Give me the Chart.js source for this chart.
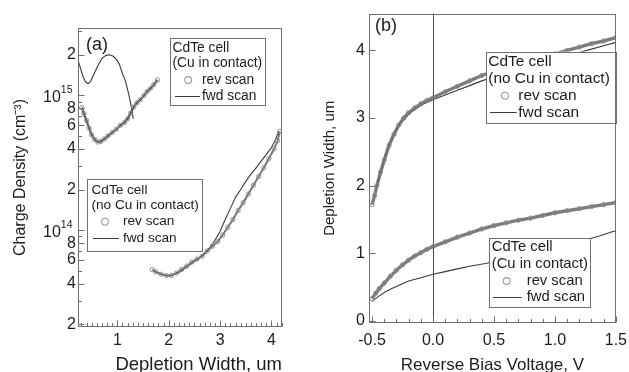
<!DOCTYPE html>
<html>
<head>
<meta charset="utf-8">
<script src="https://cdn.jsdelivr.net/npm/chart.js@4.4.0/dist/chart.umd.min.js"></script>
<style>
  html, body { margin: 0; padding: 0; background: #fff; }
  #wrap { position: relative; width: 629px; height: 372px; overflow: hidden; }
  canvas { position: absolute; top: 0; }
</style>
</head>
<body>
<div id="wrap">
  <canvas id="chartA" width="305" height="372" style="left:0px"></canvas>
  <canvas id="chartB" width="330" height="372" style="left:305px"></canvas>
</div>
<script>
// ---- panel (a): charge density vs depletion width ----
const cuRevWidth = [0.31, 0.35, 0.40, 0.45, 0.50, 0.56, 0.62, 0.68, 0.75, 0.82, 0.90, 0.98, 1.06, 1.14, 1.20, 1.26, 1.32, 1.38, 1.45, 1.52, 1.58, 1.65, 1.71, 1.78];
const cuRevDensity = [8.1e14, 7.3e14, 6.5e14, 5.7e14, 5.1e14, 4.7e14, 4.5e14, 4.55e14, 4.75e14, 5.0e14, 5.3e14, 5.6e14, 6.0e14, 6.3e14, 6.7e14, 7.4e14, 8.2e14, 8.8e14, 9.3e14, 1.0e15, 1.07e15, 1.13e15, 1.2e15, 1.3e15];

const cuFwdWidth = [0.245, 0.28, 0.33, 0.38, 0.43, 0.48, 0.55, 0.62, 0.70, 0.78, 0.85, 0.92, 0.98, 1.04, 1.10, 1.16, 1.21, 1.25, 1.28, 1.31];
const cuFwdDensity = [1.76e15, 1.6e15, 1.38e15, 1.26e15, 1.22e15, 1.27e15, 1.45e15, 1.66e15, 1.88e15, 1.98e15, 2.0e15, 1.95e15, 1.85e15, 1.7e15, 1.45e15, 1.27e15, 1.06e15, 9.1e14, 7.9e14, 6.7e14];

const noCuRevWidth = [1.68, 1.75, 1.85, 1.95, 2.05, 2.15, 2.25, 2.35, 2.45, 2.55, 2.65, 2.75, 2.85, 2.95, 3.05, 3.15, 3.25, 3.35, 3.45, 3.55, 3.65, 3.75, 3.85, 3.95, 4.05, 4.12, 4.16];
const noCuRevDensity = [5.1e13, 4.9e13, 4.7e13, 4.6e13, 4.6e13, 4.8e13, 5.1e13, 5.4e13, 5.8e13, 6.1e13, 6.4e13, 7.0e13, 7.6e13, 8.2e13, 9.2e13, 1.05e14, 1.2e14, 1.4e14, 1.6e14, 1.85e14, 2.15e14, 2.5e14, 2.9e14, 3.4e14, 4.0e14, 4.6e14, 5.4e14];

const noCuFwdWidth = [1.70, 1.85, 2.0, 2.2, 2.4, 2.6, 2.8, 2.9, 3.0, 3.1, 3.2, 3.3, 3.4, 3.5, 3.6, 3.7, 3.8, 3.9, 4.0, 4.08, 4.14];
const noCuFwdDensity = [5.0e13, 4.7e13, 4.55e13, 4.85e13, 5.5e13, 6.2e13, 7.4e13, 8.4e13, 9.8e13, 1.2e14, 1.45e14, 1.75e14, 2.0e14, 2.3e14, 2.6e14, 2.9e14, 3.25e14, 3.65e14, 4.1e14, 4.7e14, 5.4e14];

const widthTicksA = [1, 2, 3, 4];
const densityTicks = [2e13, 4e13, 6e13, 8e13, 1e14, 2e14, 4e14, 6e14, 8e14, 1e15, 2e15];

// ---- panel (b): depletion width vs reverse bias ----
const biasNoCuRev = [-0.50, -0.48, -0.46, -0.43, -0.40, -0.36, -0.32, -0.28, -0.24, -0.20, -0.15, -0.10, -0.05, 0.0, 0.1, 0.2, 0.3, 0.4, 0.5, 0.6, 0.7, 0.8, 0.9, 1.0, 1.1, 1.2, 1.3, 1.4, 1.5];
const widthNoCuRev = [1.72, 1.85, 2.0, 2.2, 2.38, 2.6, 2.76, 2.9, 3.0, 3.08, 3.15, 3.21, 3.26, 3.30, 3.39, 3.47, 3.55, 3.63, 3.69, 3.75, 3.80, 3.85, 3.90, 3.95, 4.0, 4.05, 4.10, 4.14, 4.19];

const biasNoCuFwd = [-0.47, -0.44, -0.40, -0.35, -0.30, -0.25, -0.20, -0.10, 0.0, 0.1, 0.2, 0.3, 0.4, 0.5, 0.6, 0.7, 0.8, 0.9, 1.0, 1.1, 1.2, 1.3, 1.4, 1.5];
const widthNoCuFwd = [1.95, 2.15, 2.4, 2.65, 2.83, 2.96, 3.06, 3.19, 3.27, 3.34, 3.41, 3.48, 3.55, 3.61, 3.67, 3.72, 3.77, 3.82, 3.87, 3.92, 3.97, 4.02, 4.07, 4.12];

const biasCuRev = [-0.50, -0.47, -0.44, -0.40, -0.35, -0.30, -0.25, -0.20, -0.15, -0.10, -0.05, 0.0, 0.1, 0.2, 0.3, 0.4, 0.5, 0.6, 0.7, 0.8, 0.9, 1.0, 1.1, 1.2, 1.3, 1.4, 1.5];
const widthCuRev = [0.33, 0.41, 0.48, 0.56, 0.66, 0.75, 0.83, 0.90, 0.96, 1.01, 1.06, 1.10, 1.17, 1.24, 1.30, 1.36, 1.41, 1.45, 1.49, 1.52, 1.56, 1.60, 1.63, 1.66, 1.69, 1.72, 1.75];

const biasCuFwd = [-0.50, -0.45, -0.40, -0.35, -0.30, -0.25, -0.20, -0.10, 0.0, 0.1, 0.2, 0.3, 0.43, 0.6, 0.8, 1.0, 1.15, 1.26, 1.37, 1.47, 1.5];
const widthCuFwd = [0.29, 0.36, 0.42, 0.47, 0.51, 0.55, 0.59, 0.64, 0.69, 0.73, 0.77, 0.81, 0.85, 0.91, 0.99, 1.07, 1.14, 1.20, 1.26, 1.32, 1.33];

const biasTicks = [-0.5, 0.0, 0.5, 1.0, 1.5];
const widthTicksB = [0, 1, 2, 3, 4];
const zeroBias = 0;

// ---- styling ----
const FONT = '"Liberation Sans", Arial, Helvetica, sans-serif';
const TEXT = '#1c1c1c';
const FRAME = '#6f6f6f';
const REV_MARK = '#8a8a8a';
const FWD = '#3a3a3a';

Chart.defaults.font.family = FONT;
Chart.defaults.color = TEXT;

const pairs = (xs, ys) => xs.map((x, i) => ({ x: x, y: ys[i] }));

function revSet(label, pts, color, width) {
  return {
    label: label, data: pts, showLine: true,
    borderColor: color, borderWidth: width,
    pointRadius: 2.2, pointBorderWidth: 0.9,
    pointBorderColor: REV_MARK, pointBackgroundColor: 'rgba(255,255,255,0)'
  };
}
function fwdSet(label, pts) {
  return { label: label, data: pts, showLine: true, borderColor: FWD, borderWidth: 1.1, pointRadius: 0 };
}

// tick marks drawn inward, minor + major
const ticksAx = [];
for (let i = 3; i <= 42; i++) ticksAx.push([i / 10, i % 10 === 0 ? 6 : 3.5]);
const ticksAy = [];
for (let e = 13; e <= 15; e++) {
  for (let m = 1; m <= 9; m++) {
    const v = m * Math.pow(10, e);
    if (v < 1.95e13 || v > 3.1e15) continue;
    ticksAy.push([v, [1, 2, 4, 6, 8].includes(m) ? 6 : 3.5]);
  }
}
const ticksBx = [];
for (let i = -5; i <= 15; i++) ticksBx.push([i / 10, i % 5 === 0 ? 6 : 3.5]);
const ticksBy = widthTicksB.map(v => [v, 6]);

function drawLegend(ctx, L) {
  ctx.fillStyle = '#fff';
  ctx.fillRect(L.x, L.y, L.w, L.h);
  ctx.strokeStyle = FRAME;
  ctx.lineWidth = 1;
  ctx.strokeRect(Math.round(L.x) + 0.5, Math.round(L.y) + 0.5, Math.round(L.w), Math.round(L.h));
  ctx.fillStyle = TEXT;
  ctx.font = L.size + 'px ' + FONT;
  ctx.textBaseline = 'middle';
  ctx.textAlign = 'left';
  ctx.fillText('CdTe cell', L.tx, L.rows[0]);
  ctx.fillText(L.sub, L.tx, L.rows[1]);
  ctx.fillText('rev scan', L.sx, L.rows[2]);
  ctx.fillText('fwd scan', L.sx, L.rows[3]);
  ctx.strokeStyle = '#9a9a9a';
  ctx.lineWidth = 1.1;
  ctx.beginPath();
  ctx.arc(L.cx, L.rows[2], 3.4, 0, Math.PI * 2);
  ctx.stroke();
  ctx.strokeStyle = FWD;
  ctx.lineWidth = 1;
  ctx.beginPath();
  ctx.moveTo(L.l0, Math.round(L.rows[3]) + 0.5);
  ctx.lineTo(L.l1, Math.round(L.rows[3]) + 0.5);
  ctx.stroke();
}

const decor = {
  id: 'decor',
  beforeDatasetsDraw(chart, args, o) {
    if (o.zeroLine === undefined) return;
    const ctx = chart.ctx, a = chart.chartArea;
    const px = Math.round(chart.scales.x.getPixelForValue(o.zeroLine)) + 0.5;
    ctx.save();
    ctx.strokeStyle = '#4a4a4a';
    ctx.lineWidth = 1;
    ctx.beginPath();
    ctx.moveTo(px, a.top);
    ctx.lineTo(px, a.bottom);
    ctx.stroke();
    ctx.restore();
  },
  afterDatasetsDraw(chart, args, o) {
    const ctx = chart.ctx, a = chart.chartArea;
    const sx = chart.scales.x, sy = chart.scales.y;
    ctx.save();
    o.legends.forEach(L => drawLegend(ctx, L));
    const L0 = Math.round(a.left) + 0.5, R0 = Math.round(a.right) - 0.5;
    const T0 = Math.round(a.top) + 0.5, B0 = Math.round(a.bottom) - 0.5;
    ctx.strokeStyle = FRAME;
    ctx.lineWidth = 1;
    ctx.strokeRect(L0, T0, R0 - L0, B0 - T0);
    ctx.beginPath();
    o.xTicks.forEach(([v, len]) => {
      const p = Math.round(sx.getPixelForValue(v)) + 0.5;
      ctx.moveTo(p, B0); ctx.lineTo(p, B0 - len);
    });
    o.yTicks.forEach(([v, len]) => {
      const p = Math.round(sy.getPixelForValue(v)) + 0.5;
      ctx.moveTo(L0, p); ctx.lineTo(L0 + len, p);
    });
    ctx.stroke();
    // panel tag
    ctx.fillStyle = TEXT;
    ctx.font = o.tag.size + 'px ' + FONT;
    ctx.textBaseline = 'middle';
    ctx.textAlign = 'left';
    ctx.fillText(o.tag.text, o.tag.x, o.tag.y);
    // 10^n labels of the log axis
    (o.decades || []).forEach(v => {
      const p = sy.getPixelForValue(v);
      const e = String(Math.round(Math.log10(v)));
      ctx.textAlign = 'right';
      ctx.font = '10.5px ' + FONT;
      const xe = L0 - 6;
      ctx.fillText(e, xe, p - 5);
      const ew = ctx.measureText(e).width;
      ctx.font = '16px ' + FONT;
      ctx.fillText('10', xe - ew, p + 2.5);
    });
    ctx.restore();
  }
};

const isDecade = v => Math.abs(Math.log10(v) - Math.round(Math.log10(v))) < 1e-9;

// ---- chart (a) ----
new Chart(document.getElementById('chartA'), {
  type: 'scatter',
  data: {
    datasets: [
      revSet('Cu rev scan', pairs(cuRevWidth, cuRevDensity), 'rgba(70,70,70,0.9)', 2.2),
      fwdSet('Cu fwd scan', pairs(cuFwdWidth, cuFwdDensity)),
      revSet('no Cu rev scan', pairs(noCuRevWidth, noCuRevDensity), 'rgba(95,95,95,0.85)', 2),
      fwdSet('no Cu fwd scan', pairs(noCuFwdWidth, noCuFwdDensity))
    ]
  },
  options: {
    responsive: false, animation: false, devicePixelRatio: 1,
    layout: { padding: { top: 28, right: 23, left: 0, bottom: 0 } },
    plugins: {
      legend: { display: false }, tooltip: { enabled: false },
      decor: {
        xTicks: ticksAx, yTicks: ticksAy,
        decades: densityTicks.filter(isDecade),
        tag: { text: '(a)', x: 86, y: 45.5, size: 18 },
        legends: [
          { x: 170, y: 38, w: 95, h: 67, size: 13.8, sub: '(Cu in contact)',
            rows: [47.7, 63.3, 80, 95.7], tx: 172.5, cx: 188.3, sx: 202, l0: 175, l1: 200 },
          { x: 87, y: 179, w: 115, h: 72, size: 13.6, sub: '(no Cu in contact)',
            rows: [190, 205.5, 221.7, 238.3], tx: 91.5, cx: 105, sx: 123, l0: 93, l1: 119 }
        ]
      }
    },
    scales: {
      x: {
        type: 'linear', min: 0.234, max: 4.205,
        grid: { display: false, drawTicks: false }, border: { display: false },
        afterBuildTicks: s => { s.ticks = widthTicksA.map(v => ({ value: v })); },
        afterFit: s => { s.height = 45; },
        ticks: { autoSkip: false, maxRotation: 0, padding: 4, color: TEXT, font: { size: 16 }, callback: v => String(v) },
        title: { display: true, text: 'Depletion Width, um', align: 'end', color: TEXT,
                 font: { size: 18.5, lineHeight: 1 }, padding: { top: 0, bottom: -2 } }
      },
      y: {
        type: 'logarithmic', min: 1.91e13, max: 3.16e15,
        grid: { display: false, drawTicks: false }, border: { display: false },
        afterBuildTicks: s => { s.ticks = densityTicks.map(v => ({ value: v })); },
        afterFit: s => { s.width = 78; },
        ticks: { autoSkip: false, padding: 2, color: TEXT, font: { size: 16 },
                 callback: v => isDecade(v) ? '' : String(Math.round(v / Math.pow(10, Math.floor(Math.log10(v) + 1e-9)))) },
        title: { display: true, text: 'Charge Density (cm⁻³)', color: TEXT,
                 font: { size: 16, lineHeight: 1 }, padding: { top: 13, bottom: 0 } }
      }
    }
  },
  plugins: [decor]
});

// ---- chart (b) ----
new Chart(document.getElementById('chartB'), {
  type: 'scatter',
  data: {
    datasets: [
      revSet('no Cu rev scan', pairs(biasNoCuRev, widthNoCuRev), 'rgba(110,110,110,0.9)', 3.4),
      fwdSet('no Cu fwd scan', pairs(biasNoCuFwd, widthNoCuFwd)),
      revSet('Cu rev scan', pairs(biasCuRev, widthCuRev), 'rgba(110,110,110,0.9)', 3.4),
      fwdSet('Cu fwd scan', pairs(biasCuFwd, widthCuFwd))
    ]
  },
  options: {
    responsive: false, animation: false, devicePixelRatio: 1,
    layout: { padding: { top: 8, right: 16, left: 0, bottom: 0 } },
    plugins: {
      legend: { display: false }, tooltip: { enabled: false },
      decor: {
        zeroLine: zeroBias,
        xTicks: ticksBx, yTicks: ticksBy,
        tag: { text: '(b)', x: 70, y: 25.8, size: 18 },
        legends: [
          { x: 181, y: 51.7, w: 130, h: 70.6, size: 15.4, sub: '(no Cu in contact)',
            rows: [61.7, 78.3, 95.7, 112.3], tx: 183.3, cx: 200, sx: 213.3, l0: 185, l1: 211.7 },
          { x: 184.3, y: 237.7, w: 100.7, h: 69.3, size: 14.8, sub: '(Cu in contact)',
            rows: [247, 264.3, 281, 297], tx: 186.7, cx: 201.7, sx: 221.7, l0: 188, l1: 216.7 }
        ]
      }
    },
    scales: {
      x: {
        type: 'linear', min: -0.525, max: 1.5,
        grid: { display: false, drawTicks: false }, border: { display: false },
        afterBuildTicks: s => { s.ticks = biasTicks.map(v => ({ value: v })); },
        afterFit: s => { s.height = 49; },
        ticks: { autoSkip: false, maxRotation: 0, padding: 8, color: TEXT, font: { size: 16 }, callback: v => v.toFixed(1) },
        title: { display: true, text: 'Reverse Bias Voltage, V', color: TEXT,
                 font: { size: 17, lineHeight: 1 }, padding: { top: 0, bottom: -2 } }
      },
      y: {
        type: 'linear', min: -0.03, max: 4.545,
        grid: { display: false, drawTicks: false }, border: { display: false },
        afterBuildTicks: s => { s.ticks = widthTicksB.map(v => ({ value: v })); },
        afterFit: s => { s.width = 64; },
        ticks: { autoSkip: false, padding: 4, color: TEXT, font: { size: 16 }, callback: v => String(v) },
        title: { display: true, text: 'Depletion Width, um', color: TEXT,
                 font: { size: 15, lineHeight: 1 }, padding: { top: 17, bottom: 0 } }
      }
    }
  },
  plugins: [decor]
});
</script>
</body>
</html>
